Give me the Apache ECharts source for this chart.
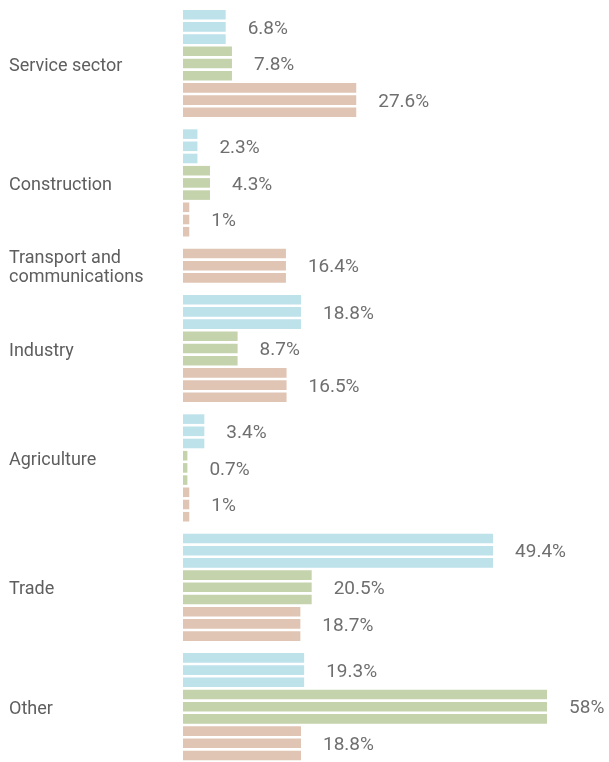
<!DOCTYPE html>
<html>
<head>
<meta charset="utf-8">
<script src="https://cdn.jsdelivr.net/npm/echarts@6/dist/echarts.min.js"></script>
<style>
  html, body { margin: 0; padding: 0; background: #fff; }
  #chart { width: 609px; height: 762px; }
</style>
</head>
<body>
<div id="chart"></div>
<script>
const categories = ['Service sector', 'Construction', 'Transport and\ncommunications', 'Industry', 'Agriculture', 'Trade', 'Other']
const blueValues = [6.8, 2.3, null, 18.8, 3.4, 49.4, 19.3]
const greenValues = [7.8, 4.3, null, 8.7, 0.7, 20.5, 58]
const pinkValues = [27.6, 1, 16.4, 16.5, 1, 18.7, 18.8]

const seriesDefs = [
  { key: 'blue', values: blueValues, color: '#bde2ea' },
  { key: 'green', values: greenValues, color: '#c5d3ad' },
  { key: 'pink', values: pinkValues, color: '#e0c5b5' },
]

const ROW = 36.6
const GAP = 9.6
const STRIPE = 9.6
const FONT = 'Roboto, sans-serif'

const chart = echarts.init(document.getElementById('chart'))

const grids = []
const xAxes = []
const yAxes = []
const series = []
let gridTop = 8.6

categories.forEach((cat, i) => {
  const rows = seriesDefs.filter((s) => s.values[i] != null)
  const height = rows.length * ROW
  grids.push({ left: 183, width: 376.6, top: gridTop, height: height })
  gridTop += height + GAP

  // the Agriculture label sits above its group centre in the original
  const style = cat === 'Agriculture' ? 'up' : 'n'
  const name = cat.split('\n').map((line) => '{' + style + '|' + line + '}').join('\n')

  xAxes.push({
    gridIndex: i,
    type: 'value',
    min: 0,
    max: 60,
    show: false,
    splitLine: { show: false },
  })
  yAxes.push({
    gridIndex: i,
    type: 'category',
    inverse: true,
    data: rows.map((r) => r.key),
    axisLine: { show: false },
    axisTick: { show: false },
    axisLabel: { show: false },
    name: name,
    nameLocation: 'middle',
    nameRotate: 0,
    nameGap: 174,
    nameTextStyle: {
      align: 'left',
      verticalAlign: 'middle',
      rich: {
        n: {
          color: '#5e5e5e',
          fontSize: 18,
          fontFamily: FONT,
          lineHeight: 19,
          padding: [5, 0, 0, 0],
        },
        up: {
          color: '#5e5e5e',
          fontSize: 18,
          fontFamily: FONT,
          lineHeight: 19,
          padding: [0, 0, 14, 0],
        },
      },
    },
  })

  // each bar is drawn as three thin stripes
  for (let s = 0; s < 3; s++) {
    series.push({
      type: 'bar',
      xAxisIndex: i,
      yAxisIndex: i,
      barWidth: STRIPE,
      barGap: '27%',
      silent: true,
      data: rows.map((r) => ({
        value: r.values[i],
        itemStyle: { color: r.color },
      })),
      label: {
        show: s === 1,
        position: 'right',
        distance: 22,
        offset: [0, 2],
        color: '#6f6f6f',
        fontSize: 19,
        fontFamily: FONT,
        formatter: (p) => p.value + '%',
      },
    })
  }
})

chart.setOption({
  animation: false,
  grid: grids,
  xAxis: xAxes,
  yAxis: yAxes,
  series: series,
})
</script>
</body>
</html>
